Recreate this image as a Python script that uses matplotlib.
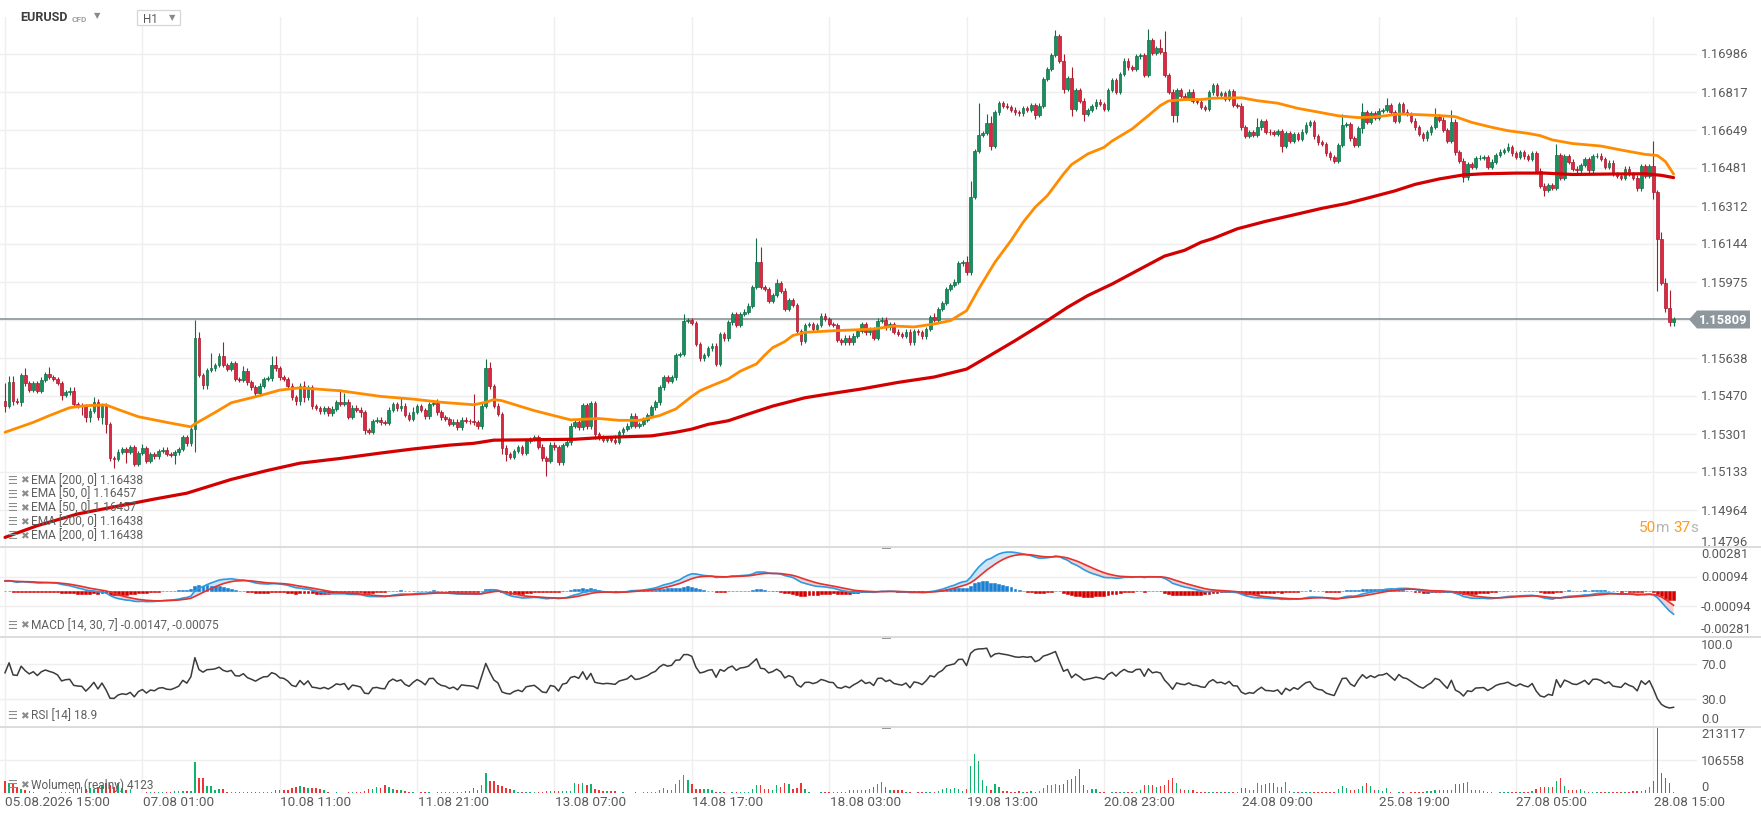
import numpy as np
import matplotlib
matplotlib.use("Agg")
import matplotlib.pyplot as plt
from matplotlib.patches import Polygon, Rectangle
from matplotlib.transforms import blended_transform_factory

plt.rcParams['font.family'] = ['Roboto', 'DejaVu Sans']

# ------------------------------------------------------------------ data
symbol = "EURUSD"
timeframe = "H1"
first_open = 1.15449
closes = [
    1.15427, 1.15530, 1.15449, 1.15445, 1.15563, 1.15526, 1.15498, 1.15527, 1.15493, 1.15542,
    1.15567, 1.15555, 1.15545, 1.15527, 1.15474, 1.15486, 1.15490, 1.15434, 1.15427, 1.15424,
    1.15375, 1.15405, 1.15445, 1.15375, 1.15430, 1.15346, 1.15193, 1.15190, 1.15223, 1.15235,
    1.15223, 1.15242, 1.15168, 1.15217, 1.15238, 1.15183, 1.15213, 1.15202, 1.15227, 1.15232,
    1.15213, 1.15208, 1.15220, 1.15235, 1.15286, 1.15260, 1.15323, 1.15725, 1.15563, 1.15520,
    1.15586, 1.15592, 1.15607, 1.15649, 1.15607, 1.15590, 1.15616, 1.15545, 1.15541, 1.15582,
    1.15530, 1.15508, 1.15482, 1.15516, 1.15545, 1.15548, 1.15607, 1.15592, 1.15552, 1.15545,
    1.15516, 1.15464, 1.15449, 1.15516, 1.15464, 1.15510, 1.15424, 1.15416, 1.15402, 1.15415,
    1.15393, 1.15414, 1.15443, 1.15434, 1.15445, 1.15377, 1.15418, 1.15409, 1.15397, 1.15320,
    1.15312, 1.15360, 1.15365, 1.15353, 1.15350, 1.15409, 1.15434, 1.15415, 1.15427, 1.15387,
    1.15368, 1.15400, 1.15425, 1.15408, 1.15380, 1.15434, 1.15437, 1.15397, 1.15375, 1.15368,
    1.15346, 1.15356, 1.15331, 1.15365, 1.15360, 1.15357, 1.15353, 1.15335, 1.15427, 1.15592,
    1.15513, 1.15427, 1.15390, 1.15241, 1.15211, 1.15199, 1.15227, 1.15242, 1.15217, 1.15270,
    1.15279, 1.15286, 1.15245, 1.15193, 1.15183, 1.15254, 1.15242, 1.15176, 1.15252, 1.15264,
    1.15338, 1.15353, 1.15331, 1.15430, 1.15335, 1.15439, 1.15301, 1.15286, 1.15275, 1.15282,
    1.15276, 1.15267, 1.15309, 1.15323, 1.15338, 1.15383, 1.15338, 1.15346, 1.15365, 1.15385,
    1.15419, 1.15442, 1.15508, 1.15552, 1.15538, 1.15552, 1.15652, 1.15656, 1.15804, 1.15807,
    1.15793, 1.15700, 1.15637, 1.15652, 1.15681, 1.15693, 1.15612, 1.15745, 1.15725, 1.15796,
    1.15833, 1.15785, 1.15833, 1.15844, 1.15870, 1.15952, 1.16062, 1.15952, 1.15944, 1.15892,
    1.15918, 1.15969, 1.15937, 1.15855, 1.15895, 1.15873, 1.15759, 1.15715, 1.15785, 1.15789,
    1.15767, 1.15785, 1.15826, 1.15811, 1.15789, 1.15785, 1.15719, 1.15708, 1.15729, 1.15708,
    1.15737, 1.15759, 1.15789, 1.15752, 1.15764, 1.15729, 1.15804, 1.15808, 1.15774, 1.15789,
    1.15755, 1.15745, 1.15737, 1.15755, 1.15708, 1.15759, 1.15752, 1.15734, 1.15767, 1.15819,
    1.15808, 1.15855, 1.15882, 1.15944, 1.15962, 1.15977, 1.16058, 1.16062, 1.16018, 1.16351,
    1.16557, 1.16627, 1.16636, 1.16680, 1.16580, 1.16727, 1.16767, 1.16757, 1.16750, 1.16739,
    1.16727, 1.16723, 1.16745, 1.16739, 1.16760, 1.16716, 1.16757, 1.16875, 1.16920, 1.16982,
    1.17064, 1.16957, 1.16831, 1.16878, 1.16742, 1.16827, 1.16779, 1.16720, 1.16738, 1.16754,
    1.16775, 1.16764, 1.16742, 1.16827, 1.16871, 1.16819, 1.16897, 1.16957, 1.16927, 1.16920,
    1.16976, 1.16980, 1.16893, 1.17048, 1.16991, 1.17011, 1.16996, 1.16893, 1.16819, 1.16716,
    1.16827, 1.16801, 1.16790, 1.16819, 1.16779, 1.16775, 1.16750, 1.16742, 1.16816, 1.16849,
    1.16804, 1.16812, 1.16787, 1.16820, 1.16760, 1.16757, 1.16661, 1.16624, 1.16639, 1.16627,
    1.16661, 1.16688, 1.16642, 1.16639, 1.16631, 1.16643, 1.16580, 1.16635, 1.16602, 1.16631,
    1.16609, 1.16642, 1.16673, 1.16683, 1.16621, 1.16594, 1.16587, 1.16546, 1.16528, 1.16513,
    1.16583, 1.16672, 1.16676, 1.16612, 1.16583, 1.16657, 1.16727, 1.16686, 1.16723, 1.16702,
    1.16735, 1.16738, 1.16760, 1.16727, 1.16691, 1.16763, 1.16730, 1.16720, 1.16691, 1.16661,
    1.16631, 1.16612, 1.16639, 1.16662, 1.16708, 1.16695, 1.16650, 1.16602, 1.16686, 1.16550,
    1.16513, 1.16439, 1.16498, 1.16484, 1.16524, 1.16527, 1.16530, 1.16487, 1.16509, 1.16538,
    1.16553, 1.16560, 1.16572, 1.16546, 1.16531, 1.16550, 1.16532, 1.16521, 1.16547, 1.16469,
    1.16402, 1.16385, 1.16405, 1.16392, 1.16538, 1.16438, 1.16533, 1.16509, 1.16478, 1.16470,
    1.16493, 1.16520, 1.16470, 1.16533, 1.16536, 1.16520, 1.16486, 1.16504, 1.16454, 1.16446,
    1.16438, 1.16478, 1.16454, 1.16438, 1.16390, 1.16489, 1.16446, 1.16489, 1.16375, 1.16166,
    1.15971, 1.15860, 1.15800, 1.15809,
]
# wick lengths beyond the body, in pips
wick_up_pips = [
    8, 3, 3, 1, 1, 3, 1, 1, 1, 1,   1, 3, 1, 1, 1, 1, 2, 2, 1, 1,
    1, 1, 2, 1, 1, 1, 1, 1, 1, 1,   1, 1, 1, 1, 2, 1, 1, 1, 1, 1,
    1, 1, 1, 1, 1, 1, 1, 8, 3, 1,   1, 7, 1, 1, 6, 1, 1, 1, 1, 2,
    1, 1, 1, 1, 1, 1, 4, 4, 1, 1,   1, 1, 1, 1, 2, 1, 1, 1, 1, 1,
    1, 1, 1, 6, 4, 1, 1, 1, 1, 1,   1, 1, 1, 1, 1, 1, 1, 1, 4, 1,
    1, 2, 1, 1, 1, 1, 1, 2, 1, 1,   1, 1, 1, 1, 1, 1, 12, 1, 1, 4,
    3, 1, 1, 1, 1, 1, 1, 1, 1, 1,   1, 1, 1, 1, 1, 1, 1, 1, 1, 1,
    1, 1, 1, 1, 1, 1, 1, 1, 1, 1,   1, 2, 1, 1, 1, 1, 1, 1, 1, 1,
    1, 1, 1, 1, 1, 1, 1, 1, 3, 1,   1, 1, 1, 1, 1, 1, 1, 1, 1, 1,
    1, 1, 1, 1, 1, 1, 11, 7, 1, 1,  1, 2, 1, 1, 1, 1, 1, 1, 1, 1,
    1, 1, 1, 1, 1, 1, 1, 1, 1, 1,   1, 1, 1, 1, 1, 1, 1, 1, 1, 1,
    1, 1, 1, 1, 1, 1, 1, 1, 1, 1,   2, 1, 1, 1, 1, 1, 1, 1, 3, 7,
    1, 14, 1, 4, 3, 1, 1, 1, 1, 1,  1, 1, 1, 1, 1, 1, 1, 1, 1, 1,
    3, 1, 3, 1, 5, 1, 1, 1, 1, 1,   1, 1, 1, 1, 1, 1, 1, 1, 1, 1,
    1, 1, 1, 5, 1, 1, 4, 9, 1, 1,   1, 1, 1, 1, 1, 1, 1, 1, 1, 1,
    1, 1, 1, 1, 1, 1, 1, 1, 1, 1,   4, 1, 1, 1, 1, 1, 1, 1, 1, 1,
    1, 1, 1, 1, 1, 1, 1, 1, 1, 1,   1, 5, 1, 1, 1, 1, 4, 1, 1, 1,
    1, 1, 3, 1, 1, 1, 1, 1, 1, 1,   1, 1, 1, 1, 4, 1, 1, 1, 5, 1,
    1, 1, 1, 1, 1, 1, 1, 1, 1, 1,   1, 1, 2, 1, 1, 1, 1, 1, 1, 1,
    1, 1, 1, 1, 5, 1, 1, 1, 1, 1,   1, 1, 1, 1, 1, 1, 1, 1, 1, 1,
    1, 1, 1, 1, 1, 1, 1, 1, 11, 1,  3, 2, 8, 1,
]
wick_dn_pips = [
    3, 1, 2, 1, 2, 1, 1, 1, 1, 1,   1, 1, 1, 1, 2, 1, 1, 1, 1, 4,
    2, 2, 1, 1, 3, 4, 1, 4, 1, 1,   5, 1, 1, 1, 1, 1, 1, 1, 1, 1,
    1, 1, 4, 1, 1, 1, 1, 10, 1, 2,  2, 1, 1, 1, 1, 1, 1, 1, 1, 1,
    1, 1, 1, 1, 1, 1, 1, 1, 1, 1,   1, 1, 2, 2, 2, 1, 1, 1, 1, 1,
    1, 1, 1, 1, 1, 1, 1, 1, 2, 2,   1, 1, 1, 1, 1, 1, 1, 1, 1, 1,
    1, 1, 1, 1, 1, 1, 1, 1, 1, 1,   1, 1, 1, 1, 1, 1, 1, 1, 1, 1,
    1, 1, 1, 3, 3, 1, 1, 1, 1, 1,   1, 1, 1, 1, 7, 1, 1, 1, 1, 1,
    1, 1, 1, 1, 1, 1, 2, 1, 1, 1,   1, 1, 1, 1, 1, 1, 1, 1, 1, 1,
    1, 1, 1, 1, 1, 1, 1, 1, 1, 1,   1, 1, 1, 1, 1, 1, 1, 1, 1, 1,
    1, 1, 1, 1, 1, 1, 1, 1, 1, 1,   1, 1, 1, 1, 1, 1, 1, 2, 1, 1,
    1, 1, 1, 1, 1, 1, 1, 1, 1, 1,   1, 1, 1, 1, 1, 1, 1, 1, 1, 1,
    1, 1, 1, 1, 1, 1, 1, 1, 1, 1,   1, 1, 1, 1, 1, 1, 1, 1, 1, 1,
    1, 1, 1, 1, 2, 1, 1, 1, 1, 1,   1, 1, 1, 1, 1, 2, 1, 1, 1, 1,
    1, 1, 2, 1, 3, 1, 1, 3, 1, 1,   1, 1, 1, 1, 1, 1, 1, 1, 1, 1,
    1, 1, 1, 1, 1, 1, 1, 1, 1, 3,   3, 1, 1, 1, 1, 1, 1, 1, 1, 1,
    1, 1, 1, 1, 1, 1, 1, 1, 1, 1,   1, 1, 1, 1, 1, 1, 3, 1, 1, 1,
    1, 1, 1, 1, 1, 1, 1, 1, 1, 1,   1, 1, 1, 1, 1, 1, 2, 1, 1, 1,
    1, 1, 1, 1, 1, 1, 1, 1, 1, 1,   1, 1, 1, 1, 1, 1, 1, 1, 1, 1,
    1, 2, 1, 1, 1, 1, 1, 1, 1, 1,   1, 1, 1, 1, 1, 1, 1, 1, 1, 1,
    1, 3, 1, 1, 1, 1, 1, 1, 1, 1,   1, 1, 1, 1, 1, 1, 1, 1, 1, 1,
    1, 1, 1, 1, 1, 1, 1, 1, 3, 23,  1, 2, 2, 2,
]
# real volume, thousands
volume_k = [
    38, 33, 30, 19, 12, 9, 6, 2, 1, 1,       1, 2, 1, 1, 2, 2, 2, 12, 16, 19,
    12, 17, 12, 19, 25, 33, 25, 19, 33, 16,  9, 12, 0, 0, 0, 2, 2, 2, 2, 3,
    3, 4, 5, 6, 7, 6, 6, 100, 50, 50,        23, 22, 9, 14, 14, 3, 2, 2, 3, 2,
    2, 3, 2, 2, 3, 2, 3, 10, 11, 10,         11, 16, 19, 22, 19, 16, 16, 17, 14, 9,
    2, 1, 2, 1, 1, 2, 2, 3, 4, 6,            12, 14, 19, 16, 25, 20, 12, 9, 9, 5,
    2, 2, 1, 2, 2, 2, 1, 2, 3, 3,            2, 3, 4, 3, 5, 6, 17, 9, 25, 66,
    38, 38, 25, 22, 17, 14, 9, 3, 2, 3,      2, 3, 3, 2, 5, 6, 6, 7, 8, 5,
    6, 33, 29, 32, 25, 30, 14, 9, 7, 8,      6, 5, 1, 2, 1, 1, 2, 1, 2, 2,
    3, 2, 11, 17, 9, 11, 30, 41, 57, 41,     30, 14, 12, 14, 12, 9, 3, 2, 2, 1,
    2, 3, 2, 3, 4, 14, 25, 25, 12, 12,       9, 25, 19, 33, 28, 12, 15, 33, 12, 2,
    1, 1, 2, 2, 2, 3, 2, 3, 3, 10,           11, 10, 11, 10, 12, 18, 30, 35, 20, 11,
    9, 10, 9, 2, 2, 1, 2, 3, 2, 3,           4, 5, 12, 17, 14, 17, 12, 8, 12, 86,
    127, 103, 41, 22, 9, 28, 20, 6, 5, 4,    3, 6, 3, 4, 5, 3, 6, 17, 25, 25,
    28, 25, 28, 43, 46, 54, 79, 25, 11, 12,  14, 3, 2, 1, 2, 2, 3, 2, 2, 3,
    2, 9, 25, 25, 25, 19, 24, 26, 43, 47,    32, 13, 11, 11, 11, 4, 2, 3, 2, 2,
    3, 2, 2, 3, 2, 3, 17, 17, 11, 11,        32, 26, 29, 32, 32, 18, 18, 37, 8, 2,
    2, 3, 2, 2, 2, 3, 2, 3, 3, 4,            13, 22, 15, 11, 11, 13, 24, 32, 22, 11,
    9, 8, 16, 2, 1, 2, 2, 1, 2, 2,           3, 3, 5, 8, 10, 10, 9, 9, 11, 28,
    29, 31, 37, 11, 9, 9, 6, 2, 2, 1,        2, 2, 3, 2, 2, 3, 3, 4, 8, 13,
    18, 18, 18, 20, 39, 49, 24, 11, 9, 9,    14, 8, 3, 2, 2, 3, 2, 3, 2, 3,
    3, 2, 4, 8, 8, 8, 11, 20, 39, 213.117,   65, 47, 32, 4.123,
]
# EMA lines (candle index, value)
ema50_idx = [0, 7, 11, 16, 20, 25, 28, 33, 40, 46, 47, 52, 56, 63, 68, 73, 83, 93, 101,
             108, 116, 119, 121, 123, 131, 140, 147, 152, 157, 162, 166, 170, 172, 175,
             179, 182, 186, 188, 190, 193, 195, 198, 205, 209, 215, 220, 225, 230, 234,
             238, 241, 245, 249, 252, 255, 258, 262, 264, 268, 272, 274, 279, 283, 286,
             288, 292, 296, 299, 306, 310, 315, 320, 324, 330, 335, 339, 342, 345, 350,
             355, 359, 363, 368, 372, 377, 380, 383, 388, 395, 401, 406, 409, 411, 413]
ema50_val = [1.15309, 1.15353, 1.15383, 1.15418, 1.15427, 1.15430, 1.15410, 1.15378,
             1.15353, 1.15333, 1.15346, 1.15397, 1.15440, 1.15471, 1.15496, 1.15506,
             1.15493, 1.15468, 1.15456, 1.15442, 1.15431, 1.15442, 1.15454, 1.15449,
             1.15405, 1.15364, 1.15370, 1.15362, 1.15362, 1.15383, 1.15412, 1.15468,
             1.15493, 1.15516, 1.15545, 1.15580, 1.15612, 1.15650, 1.15684, 1.15711,
             1.15738, 1.15752, 1.15759, 1.15762, 1.15767, 1.15780, 1.15776, 1.15789,
             1.15804, 1.15848, 1.15944, 1.16062, 1.16159, 1.16240, 1.16307, 1.16358,
             1.16454, 1.16496, 1.16543, 1.16572, 1.16600, 1.16654, 1.16713, 1.16758,
             1.16778, 1.16784, 1.16784, 1.16790, 1.16792, 1.16779, 1.16768, 1.16745,
             1.16732, 1.16712, 1.16704, 1.16707, 1.16713, 1.16720, 1.16717, 1.16713,
             1.16708, 1.16683, 1.16661, 1.16646, 1.16634, 1.16624, 1.16605, 1.16589,
             1.16578, 1.16557, 1.16541, 1.16536, 1.16509, 1.16454]
ema200_idx = [0, 8, 18, 37, 45, 56, 65, 73, 83, 93, 101, 110, 116, 121, 131, 141, 148,
              160, 166, 170, 174, 179, 184, 190, 198, 205, 212, 221, 230, 238, 243, 250,
              258, 263, 268, 274, 281, 287, 292, 296, 299, 305, 312, 320, 326, 332, 337,
              344, 349, 355, 361, 366, 374, 381, 388, 398, 406, 410, 413]
ema200_val = [1.14843, 1.14895, 1.14947, 1.15013, 1.15039, 1.15100, 1.15140, 1.15172,
              1.15193, 1.15217, 1.15235, 1.15252, 1.15260, 1.15274, 1.15276, 1.15278,
              1.15286, 1.15293, 1.15309, 1.15323, 1.15344, 1.15360, 1.15390, 1.15425,
              1.15462, 1.15482, 1.15501, 1.15530, 1.15554, 1.15589, 1.15641, 1.15715,
              1.15804, 1.15863, 1.15915, 1.15966, 1.16033, 1.16090, 1.16116, 1.16151,
              1.16168, 1.16211, 1.16244, 1.16277, 1.16302, 1.16323, 1.16346, 1.16379,
              1.16408, 1.16432, 1.16450, 1.16455, 1.16458, 1.16458, 1.16452, 1.16454,
              1.16455, 1.16448, 1.16438]
time_labels = ["05.08.2026 15:00", "07.08 01:00", "10.08 11:00", "11.08 21:00",
               "13.08 07:00", "14.08 17:00", "18.08 03:00", "19.08 13:00",
               "20.08 23:00", "24.08 09:00", "25.08 19:00", "27.08 05:00",
               "28.08 15:00"]
price_ticks = [1.16986, 1.16817, 1.16649, 1.16481, 1.16312, 1.16144, 1.15975,
               1.15806, 1.15638, 1.15470, 1.15301, 1.15133, 1.14964, 1.14796]
macd_ticks = [0.00281, 0.00094, -0.00094, -0.00281]
rsi_ticks = [100.0, 70.0, 30.0, 0.0]
volume_ticks = [213117, 106558, 0]
last_price = 1.15809
macd_fast_start, macd_slow_start, macd_signal_start = 1.15455, 1.15387, 0.00066
rsi_gain_start, rsi_loss_start = 0.00012, 0.00008
legend_price = ["EMA [200, 0] 1.16438", "EMA [50, 0] 1.16457", "EMA [50, 0] 1.16457",
                "EMA [200, 0] 1.16438", "EMA [200, 0] 1.16438"]
legend_macd = "MACD [14, 30, 7] -0.00147, -0.00075"
legend_rsi = "RSI [14] 18.9"
legend_vol = "Wolumen (realny) 4123"
countdown = [("50", '#ff9a1e'), ("m ", '#b5b5b5'), ("37", '#ff9a1e'), ("s", '#b5b5b5')]

# ------------------------------------------------------------------ derived
n = min(len(closes), len(wick_up_pips), len(wick_dn_pips), len(volume_k))
c = np.array(closes[:n])
o = np.concatenate([[first_open], c[:-1]])
hi = np.maximum(o, c) + np.array(wick_up_pips[:n]) * 1e-4
lo = np.minimum(o, c) - np.array(wick_dn_pips[:n]) * 1e-4
vol = np.array(volume_k[:n]) * 1000.0
x = np.arange(n)
rising = c >= o


def ema(seed, values, period):
    a = 2.0 / (period + 1)
    out = [seed]
    for v in values[1:]:
        out.append(out[-1] + a * (v - out[-1]))
    return np.array(out)


fast = ema(macd_fast_start, c, 14)
slow = ema(macd_slow_start, c, 30)
macd = fast - slow
sig = ema(macd_signal_start, macd, 7)
hist = macd - sig

ag, al = rsi_gain_start, rsi_loss_start
rsi = [100 - 100 / (1 + ag / al)]
for i in range(1, n):
    d = c[i] - c[i - 1]
    ag = (ag * 13 + max(d, 0)) / 14
    al = (al * 13 + max(-d, 0)) / 14
    rsi.append(100 - 100 / (1 + ag / al) if al > 0 else 100)
rsi = np.array(rsi)

# ------------------------------------------------------------------ layout
W, H = 1761, 820
fig = plt.figure(figsize=(W / 100, H / 100), dpi=100)
fig.patch.set_facecolor('white')


def axpx(x0, y0, x1, y1):
    a = fig.add_axes([x0 / W, 1 - y1 / H, (x1 - x0) / W, (y1 - y0) / H])
    a.set_facecolor('none')
    for s in a.spines.values():
        s.set_visible(False)
    a.set_xticks([])
    a.set_yticks([])
    a.set_xlim(-1.24, 418.8)
    return a


ax_p = axpx(0, 18, 1697, 548)
ax_m = axpx(0, 548, 1697, 638)
ax_r = axpx(0, 638, 1697, 728)
ax_v = axpx(0, 728, 1697, 794)

ax_p.set_ylim(1.148004, 1.171500)
ax_m.set_ylim(-0.00292, 0.00284)
ax_r.set_ylim(-2.0, 100.86)
ax_v.set_ylim(0, 213117)

GRID = '#efefef'
LABEL = '#5a5a5a'
label_step = 34
for a in (ax_p, ax_m, ax_r, ax_v):
    for gx in range(0, 414, label_step):
        a.axvline(gx, color=GRID, lw=1.0, zorder=0)
for t in price_ticks:
    ax_p.axhline(t, color=GRID, lw=1.0, zorder=0)
for t in macd_ticks[1:3]:
    ax_m.axhline(t, color=GRID, lw=1.0, zorder=0)
for t in rsi_ticks[1:3]:
    ax_r.axhline(t, color=GRID, lw=1.0, zorder=0)
ax_v.axhline(volume_ticks[1], color=GRID, lw=1.0, zorder=0)

# ------------------------------------------------------------------ price panel
G_BODY, G_EDGE = '#17905e', '#0f6e47'
R_BODY, R_EDGE = '#dc2840', '#a81a2c'
edge_cols = np.where(rising, G_EDGE, R_EDGE)
body_cols = np.where(rising, G_BODY, R_BODY)
ax_p.vlines(x, lo, hi, colors=edge_cols, lw=0.8, zorder=2)
ax_p.bar(x, c - o, bottom=o, width=0.66, color=body_cols, edgecolor=edge_cols,
         linewidth=0.5, zorder=3)
ax_p.plot(ema50_idx, ema50_val, color='#ff8c00', lw=2.0, zorder=4,
          solid_capstyle='round', solid_joinstyle='round')
ax_p.plot(ema200_idx, ema200_val, color='#d20000', lw=2.3, zorder=4,
          solid_capstyle='round', solid_joinstyle='round')
ax_p.axhline(last_price, color='#8a9398', lw=1.2, zorder=1)

# ------------------------------------------------------------------ MACD
ax_m.fill_between(x, macd, sig, where=macd >= sig, color='#a9cdee', alpha=0.55,
                  lw=0, interpolate=True, zorder=1)
ax_m.fill_between(x, macd, sig, where=macd < sig, color='#f2aaaa', alpha=0.55,
                  lw=0, interpolate=True, zorder=1)
hcol = np.where(hist >= 0, '#1b7fd2', '#d40000')
ax_m.bar(x, hist, width=0.72, color=hcol, edgecolor=hcol, linewidth=0.4, zorder=2)
ax_m.plot(x, macd, color='#2b9be3', lw=1.2, zorder=3)
ax_m.plot(x, sig, color='#e5322d', lw=1.2, zorder=3)

# ------------------------------------------------------------------ RSI
ax_r.plot(x, rsi, color='#3b3b3b', lw=1.1, zorder=3)

# ------------------------------------------------------------------ volume
vcol = np.where(rising, '#0fb36c', '#ee3535')
ax_v.bar(x, vol, width=0.36, color=vcol, linewidth=0, zorder=2)

# ------------------------------------------------------------------ dividers / handles
for yy in (548, 638, 728):
    fig.add_artist(plt.Line2D([0, 1], [1 - yy / H] * 2, color='#dcdcdc', lw=1.4,
                              transform=fig.transFigure))
    fig.add_artist(Rectangle((882 / W, 1 - (yy + 1.5) / H), 9 / W, 3 / H,
                             transform=fig.transFigure, color='#9a9a9a', lw=0))

# ------------------------------------------------------------------ right axis labels
LX = 1701 / W


def rlabel(ax, val, s, va='center', **kw):
    yd = ax.transData.transform((0, val))[1]
    fig.text(LX, yd / H, s, ha='left', va=va, fontsize=9.4, color=LABEL, **kw)


for t in price_ticks:
    if abs(t - last_price) < 0.0005:
        continue
    rlabel(ax_p, t, f"{t:.5f}", va='bottom' if t == price_ticks[-1] else 'center')
for t in macd_ticks:
    va = 'top' if t == macd_ticks[0] else ('bottom' if t == macd_ticks[-1] else 'center')
    rlabel(ax_m, t, f"{t:.5f}", va=va)
for t in rsi_ticks:
    va = 'top' if t == rsi_ticks[0] else ('bottom' if t == rsi_ticks[-1] else 'center')
    rlabel(ax_r, t, f"{t:.1f}", va=va)
for t in volume_ticks:
    va = 'top' if t == volume_ticks[0] else ('bottom' if t == volume_ticks[-1] else 'center')
    rlabel(ax_v, t, f"{t}", va=va)

# current price tag
yc = ax_p.transData.transform((0, last_price))[1]
tag = [(1689, yc), (1697, yc + 9), (1750, yc + 9), (1750, yc - 9), (1697, yc - 9)]
fig.add_artist(Polygon([(px / W, py / H) for px, py in tag], closed=True,
                       transform=fig.transFigure, color='#8d979d', lw=0))
fig.text(1723.5 / W, yc / H, f"{last_price:.5f}", ha='center', va='center',
         fontsize=9.4, color='white', fontweight='bold')

# countdown
t_prev = fig.text(1639 / W, 1 - 528 / H, countdown[0][0], ha='left', va='center',
                  fontsize=11, color=countdown[0][1])
for s, col in countdown[1:]:
    t_prev = ax_p.annotate(s, xy=(1, 0), xycoords=t_prev, ha='left', va='bottom',
                           fontsize=11, color=col, annotation_clip=False)

# ------------------------------------------------------------------ time axis labels
trans = blended_transform_factory(ax_v.transData, ax_v.transAxes)
for k, lab in enumerate(time_labels):
    ax_v.text(k * label_step + 0.1, -0.125, lab, transform=trans, ha='left',
              va='center', fontsize=9.7, color=LABEL, clip_on=False)

# ------------------------------------------------------------------ legends
ICON = '#8c8c8c'
LEG = '#5f5f5f'


def legend_line(ypx, text):
    fig.text(7 / W, 1 - ypx / H, "\u2630", fontsize=8, color=ICON, va='center',
             ha='left', family=['DejaVu Sans'])
    fig.text(20 / W, 1 - ypx / H, "\u2716", fontsize=7.5, color=ICON, va='center',
             ha='left', family=['DejaVu Sans'])
    fig.text(31 / W, 1 - ypx / H, text, fontsize=8.6, color=LEG, va='center', ha='left')


for k, s in enumerate(legend_price):
    legend_line(480.7 + 13.9 * k, s)
legend_line(625.7, legend_macd)
legend_line(716, legend_rsi)
legend_line(785, legend_vol)

# ------------------------------------------------------------------ header
fig.text(20 / W, 1 - 17.5 / H, symbol, fontsize=9.0, fontweight='bold', color='#3e3e3e',
         va='center', ha='left')
fig.text(72 / W, 1 - 19 / H, "CFD", fontsize=6.0, fontweight='bold', color='#a0a0a0',
         va='center', ha='left')
fig.text(94 / W, 1 - 16 / H, "\u25bc", fontsize=6, color='#8a8a8a', va='center',
         ha='left', family=['DejaVu Sans'])
fig.add_artist(Rectangle((137 / W, 1 - 25.5 / H), 43 / W, 15 / H, transform=fig.transFigure,
                         facecolor='white', edgecolor='#d6d6d6', lw=0.9))
fig.text(143 / W, 1 - 19.5 / H, timeframe, fontsize=8.4, color='#5a5a5a', va='center',
         ha='left')
fig.text(169 / W, 1 - 18 / H, "\u25bc", fontsize=6, color='#8a8a8a', va='center',
         ha='left', family=['DejaVu Sans'])

fig.savefig("out.png", dpi=100, facecolor='white')
